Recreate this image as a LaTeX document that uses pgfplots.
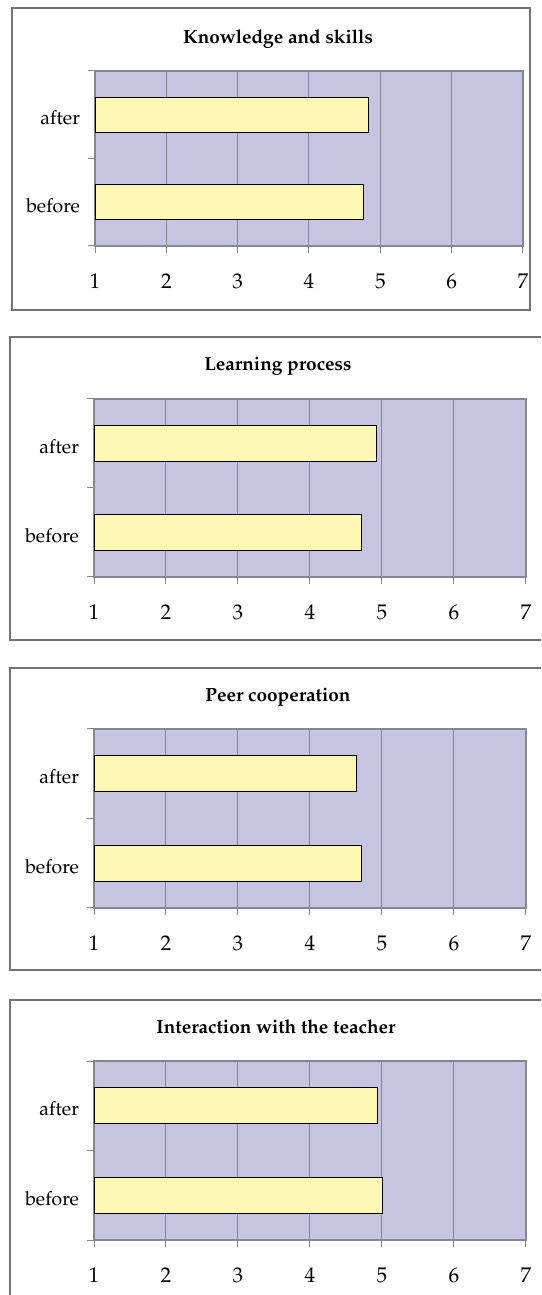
\documentclass[border=0pt]{standalone}
\usepackage[T1]{fontenc}
\usepackage{mathpazo}
\usepackage{pgfplots}
\pgfplotsset{compat=1.18}

\definecolor{plotbg}{RGB}{198,196,224}
\definecolor{barfill}{RGB}{255,248,180}
\definecolor{gridgray}{RGB}{135,133,145}
\definecolor{framegray}{RGB}{115,115,115}

\pgfplotsset{
  panel/.style={
    scale only axis, anchor=south west,
    xbar, bar width=0.4,
    xmin=1, xmax=7, ymin=-0.5, ymax=1.5,
    xtick={1,...,7},
    ytick={-0.5,0.5,1.5}, yticklabels={,,},
    extra y ticks={0,1}, extra y tick labels={before,after},
    extra y tick style={major tick length=0pt},
    tick pos=left, tick align=outside, major tick length=3.5pt,
    xmajorgrids, grid style={gridgray, line width=0.5pt},
    axis line style={gridgray, line width=0.6pt},
    tick style={gridgray, line width=0.5pt},
    axis background/.style={fill=plotbg},
    xticklabel style={font=\fontsize{10.6}{12}\selectfont, yshift=-7pt},
    yticklabel style={font=\fontsize{9.7}{11}\selectfont, xshift=-4pt, yshift=-1.5pt},
  },
  bars/.style={draw=black, fill=barfill, line width=0.6pt},
}

\begin{document}
\begin{tikzpicture}
\useasboundingbox (0pt,0pt) rectangle (270.5pt,647.5pt);
\clip (0pt,0pt) rectangle (270.5pt,647.5pt);
\tikzset{ptitle/.style={font=\bfseries\fontsize{9.5}{11}\selectfont}}

% Knowledge and skills
\draw[framegray, line width=0.7pt] (6pt,492.5pt) rectangle (265pt,643.5pt);
\node[ptitle] at (139pt,628pt) {Knowledge and skills};
\begin{axis}[panel, at={(47.5pt,524.5pt)}, width=214pt, height=87.5pt]
\addplot[bars] coordinates {(4.76,0) (4.83,1)};
\end{axis}

% Learning process
\draw[framegray, line width=0.7pt] (5pt,327.5pt) rectangle (280pt,479pt);
\node[ptitle] at (139pt,464.5pt) {Learning process};
\begin{axis}[panel, at={(47pt,359pt)}, width=216pt, height=89pt]
\addplot[bars] coordinates {(4.72,0) (4.92,1)};
\end{axis}

% Peer cooperation
\draw[framegray, line width=0.7pt] (5pt,162.5pt) rectangle (280pt,313.5pt);
\node[ptitle] at (139pt,299pt) {Peer cooperation};
\begin{axis}[panel, at={(47pt,193.5pt)}, width=216pt, height=89.5pt]
\addplot[bars] coordinates {(4.72,0) (4.65,1)};
\end{axis}

% Interaction with the teacher
\draw[framegray, line width=0.7pt] (5pt,-20pt) rectangle (280pt,147.5pt);
\node[ptitle] at (138pt,134pt) {Interaction with the teacher};
\begin{axis}[panel, at={(47pt,27.5pt)}, width=216pt, height=89.5pt]
\addplot[bars] coordinates {(5.01,0) (4.94,1)};
\end{axis}
\end{tikzpicture}
\end{document}
